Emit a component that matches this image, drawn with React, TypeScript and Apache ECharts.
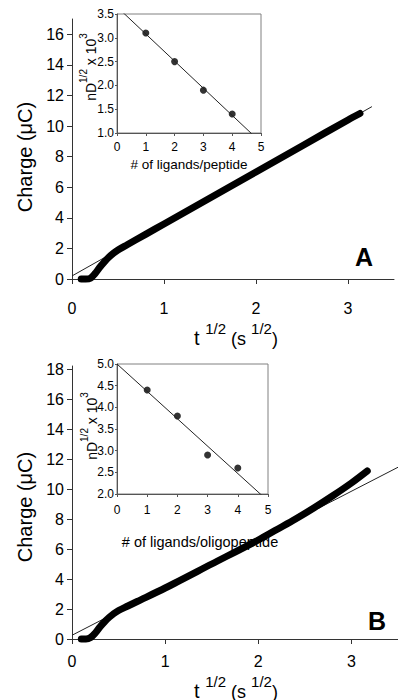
import React, { useEffect, useRef } from 'react';
import * as echarts from 'echarts';

const FONT = "'Liberation Sans', Arial, Helvetica, sans-serif";

// Panel A main curve: charge (µC) vs t^1/2
const curveA_t = [0.1, 0.15, 0.2, 0.25, 0.3, 0.35, 0.4, 0.45, 0.5, 0.6, 0.8, 1.0, 1.5, 2.0, 2.5, 3.0, 3.13];
const curveA_q = [0, 0, 0.05, 0.35, 0.75, 1.1, 1.42, 1.68, 1.9, 2.24, 2.92, 3.6, 5.3, 7.0, 8.7, 10.4, 10.82];
const fitA_t = [0, 3.26];
const fitA_q = [0.2, 11.27];

// Panel B main curve
const curveB_t = [0.1, 0.15, 0.2, 0.25, 0.3, 0.35, 0.4, 0.45, 0.5, 0.6, 0.7, 1.0, 1.5, 2.0, 2.2, 2.4, 2.6, 2.8, 3.0, 3.17];
const curveB_q = [0, 0, 0.1, 0.4, 0.8, 1.15, 1.45, 1.7, 1.9, 2.2, 2.5, 3.4, 5.0, 6.6, 7.3, 8.0, 8.75, 9.55, 10.4, 11.2];
const fitB_t = [0, 3.5];
const fitB_q = [0.25, 11.45];

// Insets
const insetA_n = [1, 2, 3, 4];
const insetA_v = [3.1, 2.5, 1.9, 1.4];
const insetA_fit_n = [0, 5];
const insetA_fit_v = [3.65, 0.8];
const insetB_n = [1, 2, 3, 4];
const insetB_v = [4.4, 3.8, 2.9, 2.6];
const insetB_fit_n = [0, 5];
const insetB_fit_v = [5.0, 1.84];

// Tick labels
const mainX_ticks = [0, 1, 2, 3];
const mainA_yticks = [0, 2, 4, 6, 8, 10, 12, 14, 16];
const mainB_yticks = [0, 2, 4, 6, 8, 10, 12, 14, 16, 18];

const zip = (a: number[], b: number[]) => a.map((v, i) => [v, b[i]]);

const AX = '#333';
const INSET_FRAME = '#808080';

function mainX(grid: number, margin: number, max: number) {
  return {
    type: 'value', gridIndex: grid, min: 0, max,
    axisLine: { show: true, lineStyle: { color: AX, width: 1 } },
    axisTick: { show: true, length: 5, customValues: mainX_ticks, lineStyle: { color: AX } },
    axisLabel: { customValues: mainX_ticks, fontSize: 16, margin, color: '#000', fontFamily: FONT },
    splitLine: { show: false },
  };
}
function mainY(grid: number, max: number, ticks: number[]) {
  return {
    type: 'value', gridIndex: grid, min: 0, max,
    axisLine: { show: true, lineStyle: { color: AX, width: 1 } },
    axisTick: { show: true, length: 5, customValues: ticks, lineStyle: { color: AX } },
    axisLabel: { customValues: ticks, fontSize: 16, margin: 8, color: '#000', fontFamily: FONT },
    splitLine: { show: false },
  };
}
function insetX(grid: number, margin: number) {
  return {
    type: 'value', gridIndex: grid, min: 0, max: 5, interval: 1,
    axisLine: { show: true, lineStyle: { color: '#555', width: 1 } },
    axisTick: { show: true, length: 3, lineStyle: { color: '#555' } },
    axisLabel: { fontSize: 12, margin, color: '#000', fontFamily: FONT },
    splitLine: { show: false },
  };
}
function insetY(grid: number, min: number, max: number) {
  return {
    type: 'value', gridIndex: grid, min, max, interval: 0.5,
    axisLine: { show: true, lineStyle: { color: '#555', width: 1 } },
    axisTick: { show: true, length: 2, lineStyle: { color: '#555' } },
    axisLabel: { fontSize: 12, margin: 3, color: '#000', fontFamily: FONT, formatter: (v: number) => v.toFixed(1) },
    splitLine: { show: false },
  };
}

const xTitleRich = {
  b: { fontSize: 20, fontFamily: FONT, color: '#000', verticalAlign: 'bottom', padding: [7, 0, 0, 0] },
  s: { fontSize: 15, fontFamily: FONT, color: '#000', verticalAlign: 'top' },
  m: { fontSize: 18, fontFamily: FONT, color: '#000', verticalAlign: 'bottom', padding: [7, 0, 0, 0] },
};
const yInsetRich = {
  b: { fontSize: 14, fontFamily: FONT, color: '#000', verticalAlign: 'bottom', padding: [5, 0, 0, 0] },
  s: { fontSize: 10, fontFamily: FONT, color: '#000', verticalAlign: 'top' },
};

function xTitle(x: number, y: number) {
  return {
    type: 'text', x, y,
    style: {
      text: '{b|t }{s|1/2}{m| (s }{s|1/2}{m|)}',
      rich: xTitleRich, align: 'center', verticalAlign: 'middle', fill: '#000',
    },
  };
}
function yMainTitle(x: number, y: number) {
  return {
    type: 'text', x, y, rotation: Math.PI / 2,
    style: { text: 'Charge (\u03bcC)', fontSize: 20, fontFamily: FONT, fill: '#000', align: 'center', verticalAlign: 'middle' },
  };
}
function yInsetTitle(x: number, y: number) {
  return {
    type: 'text', x, y, rotation: Math.PI / 2,
    style: { text: '{b|nD}{s|1/2}{b| x 10}{s|3}', rich: yInsetRich, align: 'center', verticalAlign: 'middle', fill: '#000' },
  };
}
function xInsetTitle(x: number, y: number, text: string, size: number) {
  return {
    type: 'text', x, y,
    style: { text, fontSize: size, fontFamily: FONT, fill: '#000', align: 'center', verticalAlign: 'middle' },
  };
}
function panelLetter(x: number, y: number, text: string) {
  return {
    type: 'text', x, y,
    style: { text, fontSize: 25, fontWeight: 'bold', fontFamily: FONT, fill: '#000', align: 'center', verticalAlign: 'middle' },
  };
}

export default function App() {
  const ref = useRef<HTMLDivElement>(null);
  useEffect(() => {
    if (!ref.current) return;
    const chart = echarts.init(ref.current, undefined, { renderer: 'svg' });
    const thick = { width: 7, color: '#000', cap: 'round', join: 'round' };
    const thin = { width: 1, color: '#222' };
    chart.setOption({
      animation: false,
      grid: [
        { left: 72, top: 19, width: 322, height: 260 },
        { left: 117, top: 14, width: 144, height: 119, show: true, borderColor: INSET_FRAME, borderWidth: 1, backgroundColor: 'rgba(0,0,0,0)' },
        { left: 72, top: 366, width: 334, height: 273 },
        { left: 117, top: 364, width: 151, height: 130, show: true, borderColor: INSET_FRAME, borderWidth: 1, backgroundColor: 'rgba(0,0,0,0)' },
      ],
      xAxis: [mainX(0, 21, 3.5), insetX(1, 8), mainX(2, 14, 3.5), insetX(3, 10)],
      yAxis: [mainY(0, 17, mainA_yticks), insetY(1, 1.0, 3.5), mainY(2, 18.2, mainB_yticks), insetY(3, 2.0, 5.0)],
      series: [
        { type: 'line', xAxisIndex: 0, yAxisIndex: 0, data: zip(fitA_t, fitA_q), symbol: 'none', lineStyle: thin, clip: true },
        { type: 'line', xAxisIndex: 0, yAxisIndex: 0, data: zip(curveA_t, curveA_q), symbol: 'none', smooth: 0.3, lineStyle: thick, clip: false },
        { type: 'line', xAxisIndex: 1, yAxisIndex: 1, data: zip(insetA_fit_n, insetA_fit_v), symbol: 'none', lineStyle: thin, clip: true },
        { type: 'scatter', xAxisIndex: 1, yAxisIndex: 1, data: zip(insetA_n, insetA_v), symbolSize: 7, itemStyle: { color: '#000' } },
        { type: 'line', xAxisIndex: 2, yAxisIndex: 2, data: zip(fitB_t, fitB_q), symbol: 'none', lineStyle: thin, clip: true },
        { type: 'line', xAxisIndex: 2, yAxisIndex: 2, data: zip(curveB_t, curveB_q), symbol: 'none', smooth: 0.3, lineStyle: thick, clip: false },
        { type: 'line', xAxisIndex: 3, yAxisIndex: 3, data: zip(insetB_fit_n, insetB_fit_v), symbol: 'none', lineStyle: thin, clip: true },
        { type: 'scatter', xAxisIndex: 3, yAxisIndex: 3, data: zip(insetB_n, insetB_v), symbolSize: 7, itemStyle: { color: '#000' } },
      ],
      graphic: [
        yMainTitle(25, 157),
        yMainTitle(25, 507),
        xTitle(236, 334),
        xTitle(236, 687),
        panelLetter(364, 257, 'A'),
        panelLetter(377, 621, 'B'),
        yInsetTitle(88, 67),
        yInsetTitle(89, 426),
        xInsetTitle(189, 164, '# of ligands/peptide', 13.5),
        xInsetTitle(200, 542, '# of ligands/oligopeptide', 14.5),
      ],
    });
    return () => chart.dispose();
  }, []);
  return <div ref={ref} style={{ position: 'fixed', left: 0, top: 0, width: 398, height: 700, background: '#fff' }} />;
}
